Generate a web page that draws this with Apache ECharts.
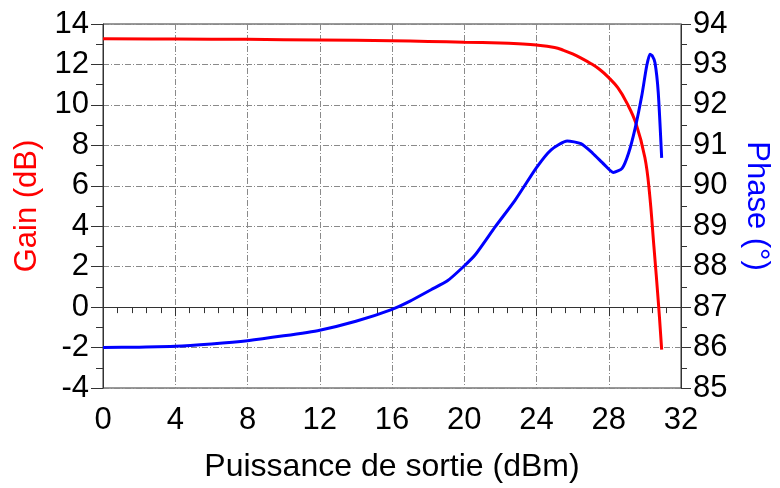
<!DOCTYPE html>
<html>
<head>
<meta charset="utf-8">
<script src="https://cdn.jsdelivr.net/npm/echarts@6/dist/echarts.min.js"></script>
<style>
  html, body { margin: 0; padding: 0; background: #fff; }
  #chart { width: 780px; height: 488px; }
</style>
</head>
<body>
<div id="chart"></div>
<script>
// Output power (dBm) and gain (dB)
const gainPower = [0, 4, 8, 12, 16, 18, 20, 22, 23, 24, 25, 25.5, 26, 26.5, 27, 27.5, 28, 28.5, 29, 29.5, 30, 30.25, 30.5, 30.75, 30.93];
const gainValues = [13.27, 13.26, 13.24, 13.21, 13.17, 13.14, 13.1, 13.06, 13.02, 12.96, 12.84, 12.7, 12.52, 12.3, 12.05, 11.75, 11.35, 10.85, 10.1, 9.1, 7.4, 5.7, 3.0, 0.2, -2.1];

// Output power (dBm) and phase (degrees)
const phasePower = [0, 2, 4, 6, 8, 10, 12, 14, 15.97, 17, 18.16, 19.07, 19.98, 20.62, 21.72, 22.81, 24.0, 24.81, 25.7, 26.46, 27.1, 27.74, 28.25, 28.74, 29.1, 29.46, 29.83, 30.1, 30.28, 30.4, 30.56, 30.74, 30.93];
const phaseValues = [86.0, 86.01, 86.03, 86.09, 86.17, 86.29, 86.43, 86.65, 86.94, 87.15, 87.43, 87.65, 88.01, 88.30, 88.99, 89.64, 90.45, 90.89, 91.11, 91.04, 90.81, 90.53, 90.33, 90.43, 90.81, 91.42, 92.23, 92.96, 93.25, 93.22, 93.04, 92.31, 90.69];

const FONT = "'Liberation Sans', Arial, sans-serif";
const gridLine = { show: true, lineStyle: { color: '#8a8a8a', width: 1, type: [6, 2, 1, 2] } };
const axisLine = { show: true, lineStyle: { color: '#333', width: 1 } };

const chart = echarts.init(document.getElementById('chart'), null, { renderer: 'canvas' });
chart.setOption({
  animation: false,
  backgroundColor: '#fff',
  grid: { left: 103, right: 92, top: 24, bottom: 94, show: true, borderColor: '#333', borderWidth: 1 },
  xAxis: {
    type: 'value', min: 0, max: 32, interval: 4,
    name: 'Puissance de sortie (dBm)', nameLocation: 'middle', nameGap: 63,
    nameTextStyle: { fontFamily: FONT, fontSize: 32, color: '#000' },
    axisLine: axisLine,
    axisTick: { show: true, length: 9, lineStyle: { color: '#333' } },
    minorTick: { show: true, splitNumber: 5, length: 6, lineStyle: { color: '#333' } },
    axisLabel: { fontFamily: FONT, fontSize: 31, color: '#000', margin: 17 },
    splitLine: gridLine
  },
  yAxis: [{
    type: 'value', min: -4, max: 14, interval: 2, position: 'left',
    name: 'Gain (dB)', nameLocation: 'middle', nameGap: 60,
    nameTextStyle: { fontFamily: FONT, fontSize: 31, color: '#ff0000' },
    axisLine: axisLine,
    axisTick: { show: true, length: 12, lineStyle: { color: '#333' } },
    minorTick: { show: true, splitNumber: 2, length: 7, lineStyle: { color: '#333' } },
    axisLabel: { fontFamily: FONT, fontSize: 31, color: '#000', margin: 14 },
    splitLine: gridLine
  }, {
    type: 'value', min: 85, max: 94, interval: 1, position: 'right',
    name: 'Phase (°)', nameLocation: 'middle', nameGap: 60, nameRotate: -90,
    nameTextStyle: { fontFamily: FONT, fontSize: 31, color: '#0000ff' },
    axisLine: axisLine,
    axisTick: { show: true, length: 10, lineStyle: { color: '#333' } },
    minorTick: { show: true, splitNumber: 2, length: 6, lineStyle: { color: '#333' } },
    axisLabel: { fontFamily: FONT, fontSize: 31, color: '#000', margin: 12 },
    splitLine: { show: false }
  }],
  series: [{
    name: 'Gain', type: 'line', yAxisIndex: 0, smooth: 0.4, symbol: 'none',
    lineStyle: { color: '#ff0000', width: 3 },
    data: gainPower.map((p, i) => [p, gainValues[i]])
  }, {
    name: 'Phase', type: 'line', yAxisIndex: 1, smooth: 0.2, symbol: 'none',
    lineStyle: { color: '#0000ff', width: 3 },
    data: phasePower.map((p, i) => [p, phaseValues[i]])
  }]
});
</script>
</body>
</html>
